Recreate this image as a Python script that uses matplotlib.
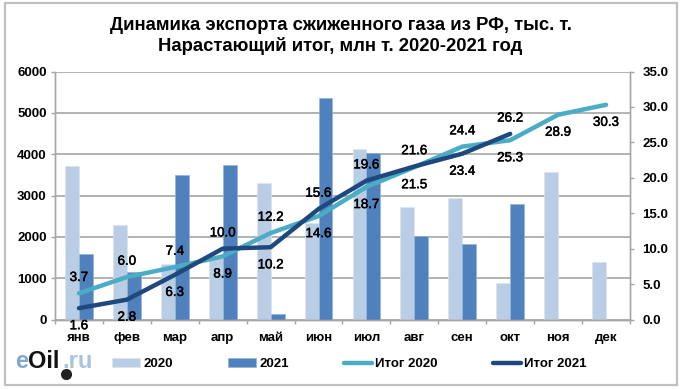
import numpy as np
import matplotlib.pyplot as plt
import matplotlib.patheffects as pe
from matplotlib.patches import Rectangle

plt.rcParams['font.family'] = ['Liberation Sans', 'DejaVu Sans']

months = ['янв', 'фев', 'мар', 'апр', 'май', 'июн', 'июл', 'авг', 'сен', 'окт', 'ноя', 'дек']
bars_2020 = [3720, 2280, 1340, 1500, 3300, 2330, 4130, 2720, 2930, 880, 3580, 1390]
bars_2021 = [1580, 1150, 3500, 3750, 130, 5370, 4030, 2020, 1820, 2790]
total_2020 = [3.7, 6.0, 7.4, 8.9, 12.2, 14.6, 18.7, 21.5, 24.4, 25.3, 28.9, 30.3]
total_2021 = [1.6, 2.8, 6.3, 10.0, 10.2, 15.6, 19.6, 21.6, 23.4, 26.2]

# which side of the line each label goes: 1 above, -1 below
side_2020 = [1, 1, 1, -1, 1, -1, -1, -1, 1, -1, -1, -1]
side_2021 = [-1, -1, -1, 1, -1, 1, 1, 1, -1, 1]

W, H = 682, 389
GRID = '#a6a6a6'
# regular weight with a thin stroke, heavier than regular but lighter than bold
semi = [pe.withStroke(linewidth=0.35, foreground='black')]

fig = plt.figure(figsize=(W/100, H/100), dpi=100, facecolor='white')
fig.add_artist(Rectangle((5/W, 1-385/H), 672/W, 382/H, transform=fig.transFigure,
                         fill=False, edgecolor='#c0c0c0', linewidth=1.6))

ax = fig.add_axes([55/W, 1-319.5/H, 575/W, 248/H])
ax2 = ax.twinx()
ax.set_zorder(1)
ax2.set_zorder(2)
ax.patch.set_visible(False)

x = np.arange(12)
x21 = np.arange(10)
bw = 0.29
b1 = ax.bar(x-bw/2, bars_2020, bw, color='#b9cde5', edgecolor='#dce6f2', linewidth=0.5, label='2020')
b2 = ax.bar(x21+bw/2, bars_2021, bw, color='#4f81bd', edgecolor='#95b3d7', linewidth=0.5, label='2021')

l1, = ax2.plot(x, total_2020, color='#4bacc6', linewidth=3.2, solid_capstyle='round', label='Итог 2020')
l2, = ax2.plot(x21, total_2021, color='#1f497d', linewidth=3.2, solid_capstyle='round', label='Итог 2021')

for vals, sides in [(total_2020, side_2020), (total_2021, side_2021)]:
    for i, (v, s) in enumerate(zip(vals, sides)):
        ax2.annotate(f'{v:.1f}', (i, v), xytext=(0, 11 if s > 0 else -13), textcoords='offset points',
                     ha='center', va='center', fontsize=9.6, color='black', path_effects=semi)

ax.set_xlim(-0.5, 11.5)
ax.set_ylim(0, 6000)
ax2.set_ylim(0, 35)
ax.set_yticks(range(0, 6001, 1000))
ax2.set_yticks(np.arange(0, 35.1, 5))
ax2.set_yticklabels([f'{v:.1f}' for v in np.arange(0, 35.1, 5)])
ax.set_xticks(np.arange(-0.5, 12, 1))
ax.set_xticklabels([])
ax.set_xticks(x, months, minor=True)
ax.tick_params(axis='x', which='minor', length=0, pad=9, labelsize=9.5)
ax.tick_params(axis='x', which='major', length=3, color=GRID, width=1)
ax.tick_params(axis='y', length=3, color=GRID, width=1, labelsize=9.5, pad=3)
ax2.tick_params(axis='y', length=3, color=GRID, width=1, labelsize=9.5, pad=6)
for lab in ax.get_xticklabels(minor=True) + ax.get_yticklabels() + ax2.get_yticklabels():
    lab.set_fontweight('bold')

ax.grid(axis='y', color=GRID, linewidth=1.2)
ax.set_axisbelow(True)
for a in (ax, ax2):
    for sp in a.spines.values():
        sp.set_color(GRID)
        sp.set_linewidth(1)
    a.spines['top'].set_visible(False)

fig.text(340.5/W, 1-26/H, 'Динамика экспорта сжиженного газа из РФ, тыс. т.', ha='center', va='center',
         fontsize=13.35, fontweight='bold')
fig.text(340.5/W, 1-46/H, 'Нарастающий итог, млн т. 2020-2021 год', ha='center', va='center',
         fontsize=13.35, fontweight='bold')

fig.legend(handles=[b1, b2, l1, l2], loc='center', bbox_to_anchor=(349.5/W, 1-364/H), ncol=4, frameon=False,
           prop={'size': 9.5, 'weight': 'bold'}, columnspacing=4.2, handlelength=2.1, handletextpad=0.25,
           borderpad=0, borderaxespad=0)

# logo
fig.text(15/W, 1-361/H, 'e', fontsize=17, fontweight='bold', color='#7fa9cf', va='center')
fig.text(28/W, 1-361/H, 'Oil', fontsize=17, fontweight='bold', color='#111111', va='center')
fig.text(62/W, 1-361/H, '.ru', fontsize=17, fontweight='bold', color='#a9c4dc', va='center')
fig.add_artist(plt.Line2D([66/W], [1-374/H], marker='o', markersize=7, color='#222222', transform=fig.transFigure))

fig.savefig('out.png', dpi=100)
